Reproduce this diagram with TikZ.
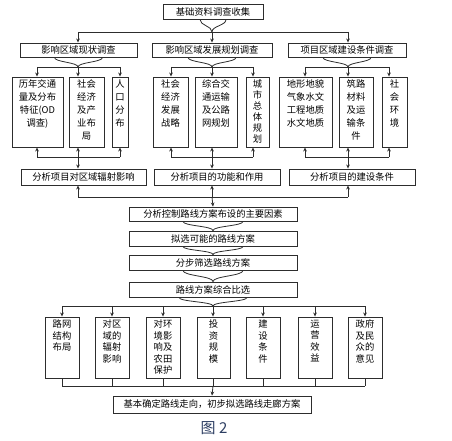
\documentclass[tikz,border=0pt]{standalone}
\usepackage{fontspec}
\setmainfont{Noto Sans CJK SC}
\usetikzlibrary{arrows.meta,calc}
\definecolor{capc}{RGB}{45,62,98}
\definecolor{lnc}{RGB}{45,45,45}
\newcommand\SB[6]{%
  \pgfmathsetmacro\mybw{#4-#2}\pgfmathsetmacro\mybh{#5-#3}%
  \node[bx,minimum width=\mybw pt,minimum height=\mybh pt] (#1) at ({(#2+#4)/2},{(#3+#5)/2}) {#6};}
\newcommand\TB[6]{%
  \pgfmathsetmacro\mybw{#4-#2}\pgfmathsetmacro\mybh{#5-#3}%
  \node[bx,minimum width=\mybw pt,minimum height=\mybh pt] (#1) at ({(#2+#4)/2},{(#3+#5)/2}) {\parbox[c][\mybh pt][t]{\mybw pt}{\centering\vspace*{3pt}#6\par}};}
\newcommand\chev[3]{%
  \coordinate (tmpM) at ($(#1.south)!0.5!(#2)$);
  \draw[ln] ($(#1.south)+(-#3,0)$) coordinate (tmpA) .. controls (tmpA |- tmpM) and (#2 |- tmpM) .. (#2);
  \draw[ln] ($(#1.south)+(#3,0)$) coordinate (tmpB) .. controls (tmpB |- tmpM) and (#2 |- tmpM) .. (#2);}
\begin{document}
\begin{tikzpicture}[x=1pt,y=-1pt,
  bx/.style={draw=lnc,line width=0.9pt,inner sep=0pt,align=center,font=\fontsize{9.3}{12.8}\selectfont},
  ln/.style={draw=lnc,line width=0.8pt},
  arr/.style={ln,-{Stealth[length=4pt,width=3.6pt]}}]
\useasboundingbox (0,0) rectangle (452,441);
% boxes
\SB{top}{163}{4}{263}{19}{基础资料调查收集}
\SB{r2a}{20}{43}{137}{57}{影响区域现状调查}
\SB{r2b}{152}{43}{272}{57}{影响区域发展规划调查}
\SB{r2c}{288}{43}{406}{57}{项目区域建设条件调查}
\TB{a1}{12}{77}{63}{147}{历年交通\\量及分布\\特征(OD\\调查)}
\TB{a2}{69}{77}{104}{147}{社会\\经济\\及产\\业布\\局}
\TB{a3}{112}{77}{128}{147}{人\\口\\分\\布}
\TB{b1}{153}{77}{188}{147}{社会\\经济\\发展\\战略}
\TB{b2}{195}{77}{237}{147}{综合交\\通运输\\及公路\\网规划}
\TB{b3}{246}{77}{269}{147}{\fontsize{9.3}{11}\selectfont 城\\市\\总\\体\\规\\划}
\TB{c1}{279}{77}{332}{147}{地形地貌\\气象水文\\工程地质\\水文地质}
\TB{c2}{339}{77}{373}{147}{筑路\\材料\\及运\\输条\\件}
\TB{c3}{382}{77}{407}{147}{社\\会\\环\\境}
\SB{d1}{21}{169}{146}{185}{分析项目对区域辐射影响}
\SB{d2}{154}{169}{280}{185}{分析项目的功能和作用}
\SB{d3}{289}{169}{415}{185}{分析项目的建设条件}
\SB{r5}{129}{207}{297}{221}{分析控制路线方案布设的主要因素}
\SB{r6}{129}{231}{297}{246}{拟选可能的路线方案}
\SB{r7}{129}{255}{297}{270}{分步筛选路线方案}
\SB{r8}{129}{282}{297}{297}{路线方案综合比选}
\TB{e1}{45}{317}{79}{378}{\fontsize{9.3}{11.5}\selectfont 路网\\结构\\布局}
\TB{e2}{95}{317}{129}{378}{\fontsize{9.3}{11.5}\selectfont 对区\\域的\\辐射\\影响}
\TB{e3}{146}{317}{180}{378}{\fontsize{9.3}{11.5}\selectfont 对环\\境影\\响及\\农田\\保护}
\TB{e4}{197}{317}{230}{378}{\fontsize{9.3}{11.5}\selectfont 投\\资\\规\\模}
\TB{e5}{246}{317}{280}{378}{\fontsize{9.3}{11.5}\selectfont 建\\设\\条\\件}
\TB{e6}{298}{317}{332}{378}{\fontsize{9.3}{11.5}\selectfont 运\\营\\效\\益}
\TB{e7}{348}{317}{382}{378}{\fontsize{9.3}{11.5}\selectfont 政府\\及民\\众的\\意见}
\SB{fin}{113}{396}{311}{413}{基本确定路线走向，初步拟选路线走廊方案}
\node[font=\fontsize{15}{15}\selectfont,text=capc] (cap) at (214,428) {图 2};
% top -> row 2
\coordinate (h0c) at (212,32);
\coordinate (h0l) at (78,32);
\coordinate (h0r) at (348,32);
\chev{top}{h0c}{13}
\draw[ln] (h0l) -- (h0r);
\draw[arr] (h0l) -- (h0l |- r2a.north);
\draw[arr] (h0c) -- (h0c |- r2b.north);
\draw[arr] (h0r) -- (h0r |- r2c.north);
% row 2 -> row 3
\coordinate (ha1) at (37,67); \coordinate (ha2) at (78,67); \coordinate (ha3) at (120,67);
\coordinate (hb1) at (171,67); \coordinate (hb2) at (212,67); \coordinate (hb3) at (253,67);
\coordinate (hc1) at (305,67); \coordinate (hc2) at (348,67); \coordinate (hc3) at (389,67);
\chev{r2a}{ha2}{24}
\chev{r2b}{hb2}{24}
\chev{r2c}{hc2}{24}
\draw[ln] (ha1) -- (ha3); \draw[ln] (hb1) -- (hb3); \draw[ln] (hc1) -- (hc3);
\draw[arr] (ha1) -- (ha1 |- a1.north);
\draw[arr] (ha2) -- (ha2 |- a2.north);
\draw[arr] (ha3) -- (ha3 |- a3.north);
\draw[arr] (hb1) -- (hb1 |- b1.north);
\draw[arr] (hb2) -- (hb2 |- b2.north);
\draw[arr] (hb3) -- (hb3 |- b3.north);
\draw[arr] (hc1) -- (hc1 |- c1.north);
\draw[arr] (hc2) -- (hc2 |- c2.north);
\draw[arr] (hc3) -- (hc3 |- c3.north);
% row 3 -> row 4
\coordinate (ga1) at (37,157); \coordinate (ga2) at (78,157); \coordinate (ga3) at (120,157);
\coordinate (gb1) at (171,157); \coordinate (gb2) at (212,157); \coordinate (gb3) at (253,157);
\coordinate (gc1) at (305,157); \coordinate (gc2) at (348,157); \coordinate (gc3) at (389,157);
\draw[ln] (ga1) -- (ga3); \draw[ln] (gb1) -- (gb3); \draw[ln] (gc1) -- (gc3);
\draw[arr] (ga1) -- (ga1 |- a1.south);
\draw[arr] (ga2) -- (ga2 |- a2.south);
\draw[arr] (ga3) -- (ga3 |- a3.south);
\draw[arr] (gb1) -- (gb1 |- b1.south);
\draw[arr] (gb2) -- (gb2 |- b2.south);
\draw[arr] (gb3) -- (gb3 |- b3.south);
\draw[arr] (gc1) -- (gc1 |- c1.south);
\draw[arr] (gc2) -- (gc2 |- c2.south);
\draw[arr] (gc3) -- (gc3 |- c3.south);
\draw[arr] (ga2) -- (ga2 |- d1.north);
\draw[arr] (gb2) -- (gb2 |- d2.north);
\draw[arr] (gc2) -- (gc2 |- d3.north);
% row 4 -> row 5
\coordinate (k1) at (78,197); \coordinate (k2) at (212,197); \coordinate (k3) at (348,197);
\draw[ln] (k1) -- (k3);
\draw[arr] (k1) -- (k1 |- d1.south);
\draw[arr] (k2) -- (k2 |- d2.south);
\draw[arr] (k3) -- (k3 |- d3.south);
\draw[arr] (k2) -- (r5.north);
% chain
\chev{r5}{r6.north}{30}
\chev{r6}{r7.north}{30}
\chev{r7}{r8.north}{30}
% row 8 -> row 9
\coordinate (m1) at (62,306); \coordinate (m2) at (112,306); \coordinate (m3) at (163,306);
\coordinate (m4) at (213,306); \coordinate (m5) at (263,306); \coordinate (m6) at (315,306);
\coordinate (m7) at (365,306);
\chev{r8}{m4}{34}
\draw[ln] (m1) -- (m7);
\foreach \i in {1,...,7}{\draw[arr] (m\i) -- (m\i |- e\i.north);}
% row 9 -> final
\coordinate (n1) at (62,386); \coordinate (n2) at (112,386); \coordinate (n3) at (163,386);
\coordinate (n4) at (213,386); \coordinate (n5) at (263,386); \coordinate (n6) at (315,386);
\coordinate (n7) at (365,386);
\foreach \i in {1,...,7}{\draw[ln] (e\i.south -| n\i) -- (n\i);}
\draw[ln] (n1) -- (n7);
\draw[arr] (n4) -- (fin.north);
\end{tikzpicture}
\end{document}
